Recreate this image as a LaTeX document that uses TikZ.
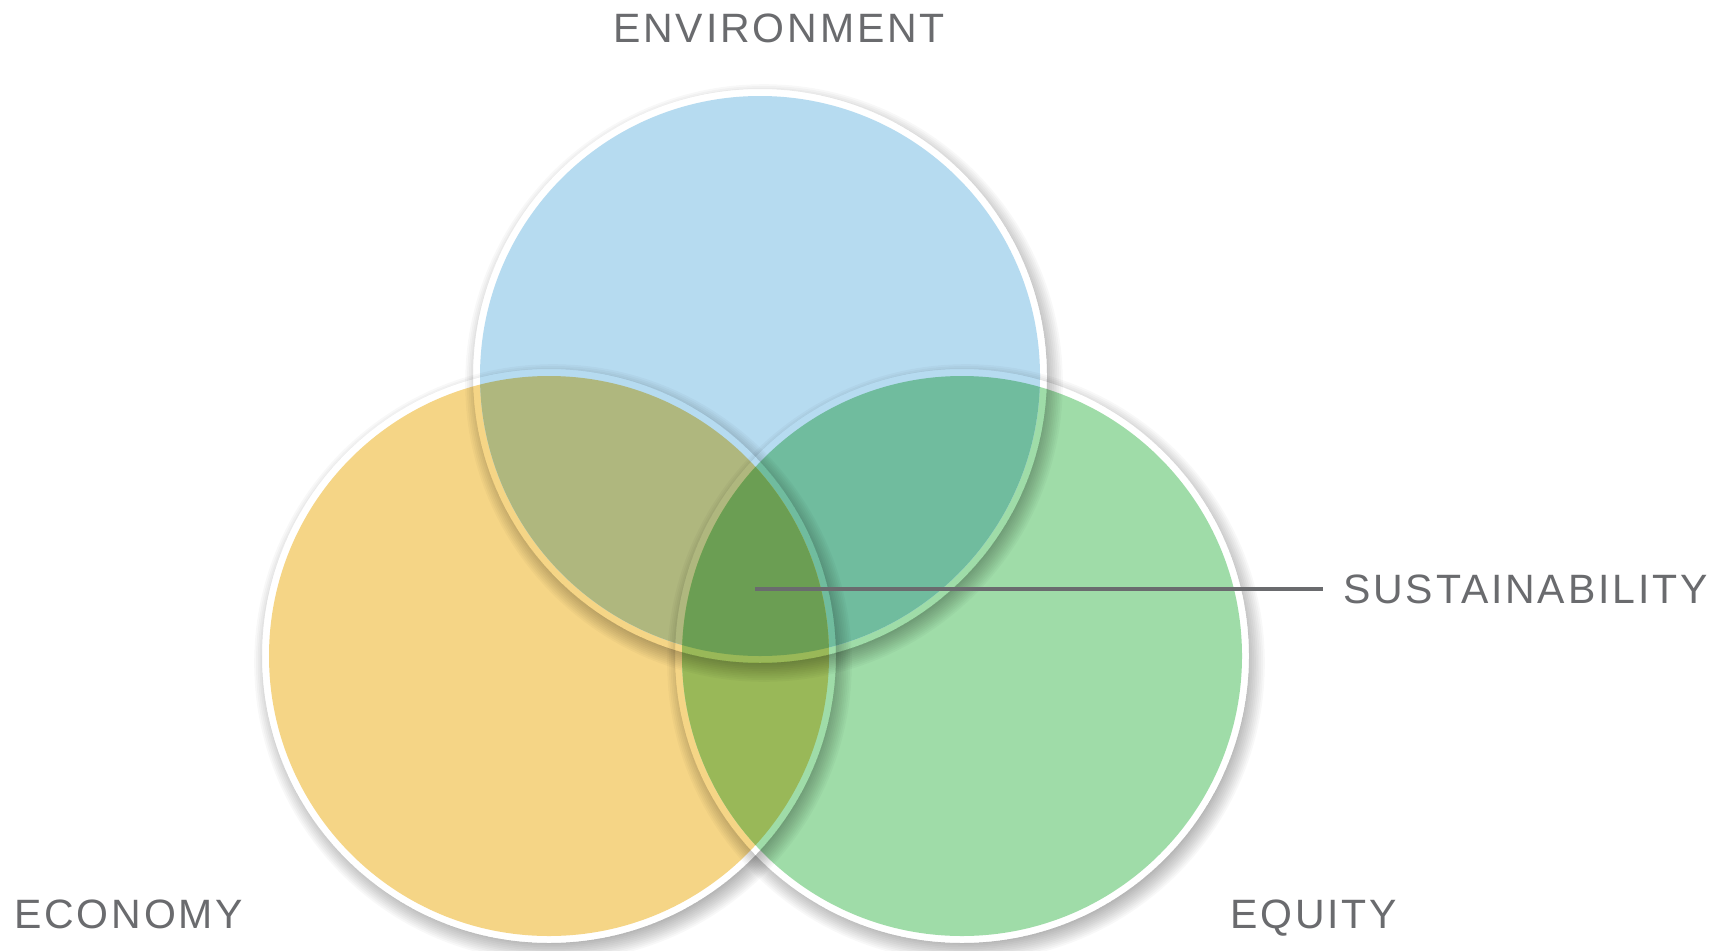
\documentclass[tikz,border=0pt]{standalone}
\usepackage{fontspec}
\newfontfamily\lblfont{Liberation Sans}[LetterSpace=7]
\definecolor{cblue}{RGB}{182,219,240}
\definecolor{cyellow}{RGB}{245,213,134}
\definecolor{cgreen}{RGB}{159,220,168}
\definecolor{cBY}{RGB}{175,183,126}
\definecolor{cBG}{RGB}{112,188,158}
\definecolor{cYG}{RGB}{153,184,88}
\definecolor{cBYG}{RGB}{107,158,83}
\definecolor{txt}{RGB}{106,107,110}
\newcommand\myshadow[1]{%
  \begin{scope}[even odd rule]
    \clip (-10,-10) rectangle (1746,960) (#1) circle (287pt);
    \foreach \k in {0,...,11} {\fill[black,opacity=0.026] ([shift={(4,7)}]#1) circle ({279pt+\k*1.8pt});}
  \end{scope}}
\begin{document}
\begin{tikzpicture}[x=1pt,y=-1pt,
  lbl/.style={anchor=base west,inner sep=0pt,font=\lblfont\fontsize{41}{41}\selectfont,text=txt},
  leader/.style={draw=txt,line width=4.6pt}]
\useasboundingbox (0,0) rectangle (1736,950);
\fill[white] (0,0) rectangle (1736,950);
\coordinate (cb) at (760,376);
\coordinate (cy) at (549,656);
\coordinate (cg) at (962,656);
\def\rf{280pt}
% base discs
\fill[cyellow] (cy) circle (\rf);
\fill[cgreen] (cg) circle (\rf);
\fill[cblue] (cb) circle (\rf);
% overlaps
\begin{scope}
  \clip (cg) circle (\rf);
  \fill[cBG] (cb) circle (\rf);
\end{scope}
\begin{scope}
  \clip (cy) circle (\rf);
  \fill[cBY] (cb) circle (\rf);
  \fill[cYG] (cg) circle (\rf);
  \clip (cg) circle (\rf);
  \fill[cBYG] (cb) circle (\rf);
\end{scope}
% shadows
\myshadow{cy}
\myshadow{cg}
\myshadow{cb}
% labels
\node[lbl] (env) at (613,43) {ENVIRONMENT};
\node[lbl] (eco) at (14,928) {ECONOMY};
\node[lbl] (equ) at (1230,928) {EQUITY};
\node[lbl] (sus) at (1343,603) {SUSTAINABILITY};
\coordinate (core) at (755,589);
\coordinate (lineend) at (1323,589);
\draw[leader] (core) -- (lineend);
\end{tikzpicture}
\end{document}
